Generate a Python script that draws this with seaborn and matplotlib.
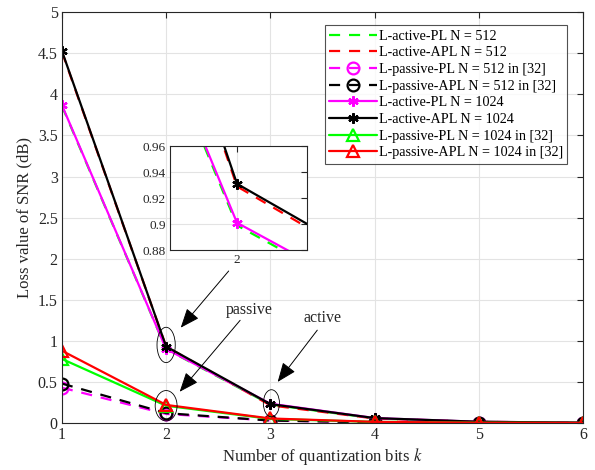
import matplotlib
matplotlib.use("Agg")
import matplotlib.pyplot as plt
from matplotlib.patches import Ellipse
import seaborn as sns

# 量化比特数
k_bits = [1, 2, 3, 4, 5, 6]

# 各曲线的 SNR 损失 (dB)
act_pl_512 = [3.86, 0.899, 0.225, 0.055, 0.014, 0.003]
act_apl_512 = [4.52, 0.929, 0.215, 0.055, 0.014, 0.004]
pas_pl_512 = [0.43, 0.11, 0.03, 0.008, 0.002, 0.0005]
pas_apl_512 = [0.48, 0.12, 0.03, 0.008, 0.002, 0.0005]
act_pl_1024 = [3.87, 0.901, 0.235, 0.06, 0.015, 0.004]
act_apl_1024 = [4.53, 0.931, 0.23, 0.06, 0.015, 0.004]
pas_pl_1024 = [0.78, 0.21, 0.05, 0.013, 0.003, 0.001]
pas_apl_1024 = [0.88, 0.22, 0.055, 0.014, 0.003, 0.001]

labels = [
    "L-active-PL N = 512",
    "L-active-APL N = 512",
    "L-passive-PL N = 512 in [32]",
    "L-passive-APL N = 512 in [32]",
    "L-active-PL N = 1024",
    "L-active-APL N = 1024",
    "L-passive-PL N = 1024 in [32]",
    "L-passive-APL N = 1024 in [32]",
]
y_ticks = [0, 0.5, 1, 1.5, 2, 2.5, 3, 3.5, 4, 4.5, 5]
y_tick_labels = ["0", "0.5", "1", "1.5", "2", "2.5", "3", "3.5", "4", "4.5", "5"]
inset_ticks = [0.88, 0.9, 0.92, 0.94, 0.96]
inset_tick_labels = ["0.88", "0.9", "0.92", "0.94", "0.96"]

series = [act_pl_512, act_apl_512, pas_pl_512, pas_apl_512,
          act_pl_1024, act_apl_1024, pas_pl_1024, pas_apl_1024]

AST = (6, 2, 0)  # 星号
styles = [
    dict(color="#00ff00", linestyle=(0, (5, 4)), marker=None, ms=0),
    dict(color="#ff0000", linestyle=(0, (5, 4)), marker=None, ms=0),
    dict(color="#ff00ff", linestyle=(0, (5, 4)), marker="o", ms=8.5),
    dict(color="black", linestyle=(0, (5, 4)), marker="o", ms=8.5),
    dict(color="#ff00ff", linestyle="-", marker=AST, ms=7.5),
    dict(color="black", linestyle="-", marker=AST, ms=7.5),
    dict(color="#00ff00", linestyle="-", marker="^", ms=9),
    dict(color="#ff0000", linestyle="-", marker="^", ms=9),
]

sns.set_theme(style="whitegrid")
plt.rcParams["font.family"] = ["Liberation Serif", "DejaVu Serif"]
plt.rcParams["mathtext.fontset"] = "stix"
plt.rcParams["xtick.direction"] = "in"
plt.rcParams["ytick.direction"] = "in"


def draw_lines(ax, with_labels):
    for vals, lab, st in zip(series, labels, styles):
        kw = dict(color=st["color"], linestyle=st["linestyle"], linewidth=1.6)
        if st["marker"] is not None:
            kw.update(marker=st["marker"], markersize=st["ms"],
                      markerfacecolor="none", markeredgecolor=st["color"],
                      markeredgewidth=1.6)
        sns.lineplot(x=k_bits, y=vals, ax=ax, label=lab if with_labels else None, **kw)


def style_axes(ax, fs):
    ax.grid(True, color="#e3e3e3", linewidth=0.8)
    for sp in ax.spines.values():
        sp.set_visible(True)
        sp.set_color("#262626")
        sp.set_linewidth(0.8)
    ax.tick_params(axis="both", which="both", direction="in", top=True, right=True,
                   length=4, width=0.8, color="#262626", labelsize=fs, pad=3,
                   labelcolor="#262626")


fig = plt.figure(figsize=(5.95, 4.70), dpi=100)
ax = fig.add_axes([0.104, 0.100, 0.876, 0.874])
ax.set_facecolor("white")
draw_lines(ax, True)
style_axes(ax, 11.5)
ax.set_xlim(1, 6)
ax.set_ylim(0, 5)
ax.set_xticks(k_bits)
ax.set_xticklabels([str(v) for v in k_bits])
ax.set_yticks(y_ticks)
ax.set_yticklabels(y_tick_labels)
ax.set_xlabel("Number of quantization bits $k$", fontsize=12, color="#262626", labelpad=2)
ax.set_ylabel("Loss value of SNR (dB)", fontsize=12, color="#262626", labelpad=4)

leg = ax.legend(loc="upper right", bbox_to_anchor=(0.975, 0.975), fontsize=10.2,
                handlelength=3.4, handletextpad=0.1, labelspacing=0.26,
                borderpad=0.3, borderaxespad=0.2, frameon=True, fancybox=False,
                numpoints=1)
leg.get_frame().set_edgecolor("#262626")
leg.get_frame().set_linewidth(0.8)
for t in leg.get_texts():
    t.set_color("black")

# 椭圆标注
for (cx, cy, w, h) in [(2.0, 0.95, 0.175, 0.43), (2.0, 0.21, 0.21, 0.37), (3.01, 0.24, 0.155, 0.33)]:
    ax.add_patch(Ellipse((cx, cy), w, h, fill=False, edgecolor="black", linewidth=0.6, zorder=5))

arrow_kw = dict(arrowstyle="-|>,head_length=1.0,head_width=0.4", color="black", lw=0.7,
                shrinkA=0, shrinkB=0)
ax.annotate("", xy=(2.14, 1.16), xytext=(2.60, 1.85), arrowprops=arrow_kw)
ax.annotate("", xy=(2.13, 0.38), xytext=(2.71, 1.25), arrowprops=arrow_kw)
ax.annotate("", xy=(3.07, 0.50), xytext=(3.45, 1.13), arrowprops=arrow_kw)
ax.text(2.80, 1.375, "passive", fontsize=11.5, ha="center", va="center")
ax.text(3.50, 1.28, "active", fontsize=11.5, ha="center", va="center")

# 局部放大图
axin = fig.add_axes([0.286, 0.468, 0.230, 0.221])
axin.set_facecolor("white")
draw_lines(axin, False)
style_axes(axin, 9.5)
axin.set_xlim(1.958, 2.044)
axin.set_ylim(0.88, 0.96)
axin.set_xticks([2])
axin.set_xticklabels(["2"])
axin.set_yticks(inset_ticks)
axin.set_yticklabels(inset_tick_labels)
axin.set_xlabel("")
axin.set_ylabel("")

fig.savefig("out.png", dpi=100)
